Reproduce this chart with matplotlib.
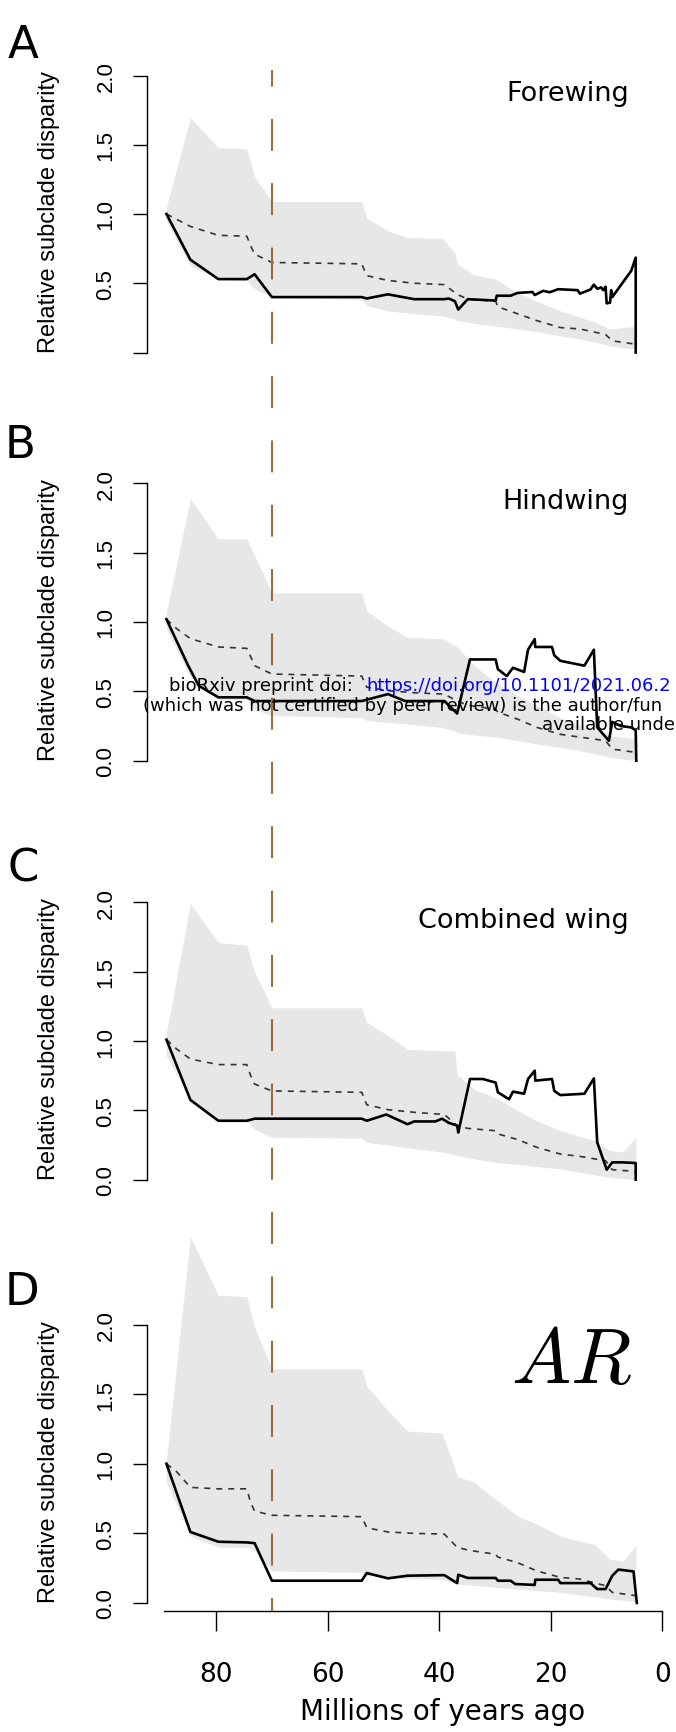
import numpy as np
import matplotlib
matplotlib.use("Agg")
import matplotlib.pyplot as plt
from matplotlib.lines import Line2D
from matplotlib.transforms import blended_transform_factory

plt.rcParams['font.family'] = ['DejaVu Sans']
plt.rcParams['mathtext.fontset'] = 'cm'
plt.rcParams['lines.scale_dashes'] = False

W, H = 676, 1733

# ---- data (ages in Ma, values = relative subclade disparity) ----
band_age = [88.9, 84.6, 79.6, 74.5, 73.1, 70.0, 53.9, 53.0, 49.2, 45.7, 39.5, 37.2,
            36.8, 33.7, 29.9, 26.0, 22.5, 18.3, 15.2, 12.1, 9.4, 7.1, 4.8]
mean_age = [88.9, 87.0, 84.6, 79.6, 74.5, 73.8, 73.1, 70.0, 53.9, 53.0, 49.2, 44.5,
            39.1, 36.8, 34.9, 29.9, 29.5, 26.0, 22.5, 18.3, 14.8, 10.2, 9.0, 4.8]

# A - forewing
fore_hi = [1.05, 1.695, 1.48, 1.47, 1.27, 1.09, 1.09, 0.97, 0.88, 0.83, 0.825, 0.72,
           0.64, 0.56, 0.53, 0.43, 0.37, 0.30, 0.26, 0.22, 0.17, 0.18, 0.19]
fore_lo = [0.95, 0.625, 0.53, 0.52, 0.46, 0.40, 0.385, 0.34, 0.30, 0.285, 0.265, 0.24,
           0.23, 0.21, 0.19, 0.17, 0.15, 0.12, 0.10, 0.075, 0.048, 0.035, 0.024]
fore_mean = [1.0, 0.96, 0.91, 0.846, 0.84, 0.77, 0.71, 0.65, 0.64, 0.555, 0.52, 0.50,
             0.49, 0.42, 0.385, 0.37, 0.33, 0.28, 0.23, 0.18, 0.17, 0.13, 0.084, 0.06]
fore_age = [88.9, 84.6, 79.6, 74.5, 73.1, 70.0, 53.9, 53.0, 49.2, 44.5, 39.1, 38.3, 37.2,
            36.6, 34.9, 29.9, 29.7, 27.2, 26.0, 23.3, 22.9, 21.4, 20.2, 18.7, 15.2, 14.8,
            12.9, 12.3, 11.7, 11.0, 10.6, 10.2, 10.0, 9.4, 9.2, 9.0, 5.6, 4.8, 4.8]
fore_obs = [1.0, 0.67, 0.53, 0.53, 0.565, 0.40, 0.40, 0.39, 0.42, 0.385, 0.385, 0.39, 0.37,
            0.31, 0.385, 0.375, 0.41, 0.41, 0.43, 0.437, 0.415, 0.445, 0.435, 0.457, 0.45, 0.425,
            0.455, 0.49, 0.46, 0.47, 0.45, 0.475, 0.355, 0.36, 0.45, 0.40, 0.59, 0.685, 0.0]

# B - hindwing
hind_hi = [1.07, 1.89, 1.60, 1.60, 1.48, 1.21, 1.21, 1.08, 0.97, 0.89, 0.88, 0.83,
           0.82, 0.685, 0.565, 0.47, 0.40, 0.31, 0.26, 0.22, 0.18, 0.17, 0.156]
hind_lo = [0.95, 0.60, 0.445, 0.44, 0.37, 0.325, 0.31, 0.29, 0.275, 0.264, 0.24, 0.215,
           0.20, 0.185, 0.17, 0.145, 0.12, 0.096, 0.075, 0.05, 0.024, 0.012, 0.0]
hind_mean = [1.02, 0.95, 0.88, 0.82, 0.81, 0.75, 0.685, 0.625, 0.61, 0.53, 0.505, 0.49,
             0.48, 0.43, 0.40, 0.37, 0.35, 0.30, 0.24, 0.19, 0.17, 0.144, 0.084, 0.06]
hind_age = [88.9, 85.0, 83.1, 79.6, 74.5, 73.1, 70.0, 53.9, 49.2, 46.1, 39.1, 36.8, 34.5,
            29.9, 29.5, 27.9, 26.8, 24.8, 24.1, 22.9, 22.8, 19.8, 19.4, 18.3, 14.0, 12.3,
            11.7, 9.6, 9.0, 7.5, 5.6, 4.8, 4.7]
hind_obs = [1.02, 0.685, 0.54, 0.457, 0.457, 0.43, 0.43, 0.43, 0.48, 0.43, 0.43, 0.34, 0.73,
            0.73, 0.66, 0.61, 0.67, 0.64, 0.80, 0.877, 0.82, 0.82, 0.76, 0.72, 0.685, 0.80,
            0.24, 0.144, 0.28, 0.25, 0.24, 0.22, 0.0]

# C - combined wing
comb_hi = [1.06, 1.99, 1.71, 1.69, 1.50, 1.24, 1.24, 1.135, 1.04, 0.94, 0.93, 0.93,
           0.76, 0.65, 0.59, 0.50, 0.425, 0.353, 0.317, 0.28, 0.21, 0.20, 0.305]
comb_lo = [0.89, 0.58, 0.425, 0.425, 0.365, 0.305, 0.30, 0.27, 0.25, 0.23, 0.20, 0.18,
           0.173, 0.15, 0.125, 0.11, 0.095, 0.077, 0.055, 0.035, 0.017, 0.008, 0.0]
comb_mean = [1.01, 0.94, 0.87, 0.83, 0.83, 0.75, 0.69, 0.64, 0.63, 0.54, 0.505, 0.486,
             0.47, 0.39, 0.37, 0.353, 0.33, 0.29, 0.233, 0.185, 0.168, 0.137, 0.072, 0.06]
comb_age = [88.9, 84.6, 79.6, 74.5, 73.1, 70.0, 53.9, 53.0, 49.5, 45.7, 44.5, 40.7, 39.5,
            38.3, 36.8, 36.6, 34.5, 32.2, 29.9, 29.5, 27.5, 26.8, 24.8, 24.1, 22.9, 22.8,
            19.8, 19.4, 18.3, 14.0, 12.3, 11.7, 10.0, 9.0, 7.1, 4.8, 4.8]
comb_obs = [1.01, 0.575, 0.425, 0.425, 0.44, 0.44, 0.44, 0.425, 0.47, 0.40, 0.42, 0.42, 0.44,
            0.41, 0.39, 0.34, 0.726, 0.726, 0.70, 0.63, 0.58, 0.635, 0.62, 0.726, 0.786, 0.714,
            0.726, 0.64, 0.61, 0.62, 0.73, 0.27, 0.072, 0.125, 0.125, 0.12, 0.0]

# D - aspect ratio
ar_hi = [1.03, 2.63, 2.21, 2.20, 1.98, 1.68, 1.68, 1.56, 1.38, 1.235, 1.22, 0.97,
         0.91, 0.865, 0.745, 0.626, 0.566, 0.48, 0.447, 0.42, 0.315, 0.30, 0.41]
ar_lo = [0.865, 0.48, 0.40, 0.40, 0.375, 0.23, 0.22, 0.196, 0.185, 0.175, 0.17, 0.14,
         0.136, 0.125, 0.112, 0.10, 0.09, 0.076, 0.06, 0.045, 0.029, 0.02, 0.01]
ar_mean = [1.0, 0.94, 0.83, 0.82, 0.82, 0.72, 0.66, 0.63, 0.62, 0.54, 0.51, 0.50,
           0.495, 0.40, 0.38, 0.35, 0.33, 0.29, 0.23, 0.184, 0.172, 0.124, 0.076, 0.053]
ar_age = [88.9, 84.6, 79.6, 74.5, 73.1, 70.0, 53.9, 53.0, 49.2, 45.7, 39.1, 36.8, 36.6,
          34.9, 29.9, 29.5, 27.2, 26.4, 22.9, 22.8, 18.7, 18.3, 12.9, 11.7, 10.2, 9.0,
          7.9, 5.2, 4.6]
ar_obs = [1.0, 0.51, 0.44, 0.435, 0.43, 0.16, 0.16, 0.215, 0.177, 0.196, 0.20, 0.143, 0.203,
          0.18, 0.18, 0.16, 0.16, 0.136, 0.13, 0.167, 0.167, 0.143, 0.143, 0.10, 0.10, 0.196,
          0.24, 0.227, 0.0]

letters = ['A', 'B', 'C', 'D']
titles = ['Forewing', 'Hindwing', 'Combined wing', r'$AR$']
x_ticks = [80, 60, 40, 20, 0]
y_ticks = [0, 0.5, 1.0, 1.5, 2.0]
kpg_age = 70.0

panels = [
    (fore_hi, fore_lo, fore_mean, fore_age, fore_obs),
    (hind_hi, hind_lo, hind_mean, hind_age, hind_obs),
    (comb_hi, comb_lo, comb_mean, comb_age, comb_obs),
    (ar_hi, ar_lo, ar_mean, ar_age, ar_obs),
]

# layout in pixels: (y of 0.0 tick, y of 2.0 tick), letter left / baseline
y_px = [(353.5, 76.5), (761.7, 484.3), (1180.7, 903.3), (1604.0, 1325.5)]
letter_pos = [(8.0, 58.3), (5.0, 458.3), (8.0, 881.7), (5.0, 1305.0)]
ax_left = 146.5
xlim = (92.47, -2.42)
ylim = (-0.06, 2.1)

fig = plt.figure(figsize=(W / 100, H / 100), dpi=100)
fig.patch.set_facecolor('white')

axes = []
for i, (hi, lo, mean, age, obs) in enumerate(panels):
    y0, y2 = y_px[i]
    pxu = (y0 - y2) / 2
    bot = y0 - ylim[0] * pxu
    top = y0 - ylim[1] * pxu
    ax = fig.add_axes([ax_left / W, 1 - bot / H, (W - ax_left) / W, (bot - top) / H])
    ax.patch.set_visible(False)
    ax.set_xlim(*xlim)
    ax.set_ylim(*ylim)

    ax.fill_between(band_age, lo, hi, color='#E7E7E7', lw=0, clip_on=False, zorder=1)
    ax.plot(mean_age, mean, color='#333333', lw=1.2, dashes=(4.3, 4.3), clip_on=False, zorder=2)
    ax.plot(age, obs, color='black', lw=1.9, clip_on=False, zorder=3)

    for s in ['top', 'right']:
        ax.spines[s].set_visible(False)
    ax.spines['left'].set_bounds(0, 2)
    ax.spines['left'].set_linewidth(1)

    ylabels = ['0.0', '0.5', '1.0', '1.5', '2.0']
    if i == 0:
        ylabels[0] = ''
    ax.set_yticks(y_ticks)
    ax.set_yticklabels(ylabels, rotation=90, va='center', ha='right', fontsize=16,
                       fontfamily='Liberation Sans')
    ax.tick_params(axis='y', direction='out', length=10, width=1, pad=11.6)

    if i < 3:
        ax.spines['bottom'].set_visible(False)
        ax.set_xticks([])
        ax.text(6.0, 1.82, titles[i], ha='right', va='baseline', fontsize=19.5)
    else:
        ax.spines['bottom'].set_bounds(89.4, 0)
        ax.spines['bottom'].set_linewidth(1)
        ax.set_xticks(x_ticks)
        ax.set_xticklabels([str(v) for v in x_ticks], fontsize=19)
        ax.tick_params(axis='x', direction='out', length=14.4, width=1, pad=21)
        ax.text(5.47, 1.59, titles[i], ha='right', va='baseline', fontsize=57)
        ax.text(39.5, 1 - 1720 / H, 'Millions of years ago', ha='center', va='baseline',
                fontsize=20, transform=blended_transform_factory(ax.transData, fig.transFigure))

    ax.text(49 / W, 1.02, 'Relative subclade disparity', rotation=90, ha='center',
            va='center', fontsize=17, fontfamily='Liberation Sans',
            transform=blended_transform_factory(fig.transFigure, ax.transData))

    lx, lb = letter_pos[i]
    fig.text(lx / W, 1 - lb / H, letters[i], fontsize=32.5, ha='left', va='baseline')
    axes.append(ax)

# dashed age marker running through all panels
xf = axes[3].transData.transform((kpg_age, 0))[0] / fig.bbox.width
fig.add_artist(Line2D([xf, xf], [1 - 70.7 / H, 1 - 1612.3 / H], transform=fig.transFigure,
                      color='#A26C38', lw=1.5, linestyle=(11.1, (23.0, 23.3)), zorder=5))

# bioRxiv watermark (cut at the right edge in the source)
wm = dict(fontsize=13.0, va='baseline', ha='left', zorder=10)
fig.text(169 / W, 1 - 691 / H, 'bioRxiv preprint doi: ', color='black', **wm)
fig.text(366 / W, 1 - 691 / H, 'https://doi.org/10.1101/2021.06.2', color='#0000FF', **wm)
fig.text(143 / W, 1 - 711.5 / H, '(which was not certified by peer review) is the author/fun',
         color='black', **wm)
fig.text(542 / W, 1 - 730 / H, 'available unde', color='black', **wm)

fig.savefig('out.png', dpi=100)
